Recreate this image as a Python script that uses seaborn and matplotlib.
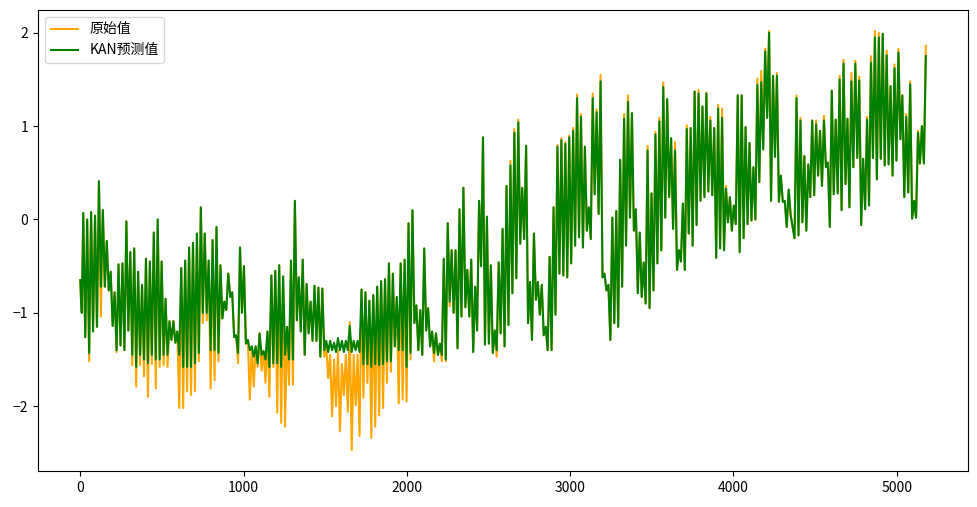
import matplotlib
matplotlib.use('Agg')
import matplotlib.pyplot as plt
import seaborn as sns
import numpy as np
import pandas as pd

plt.rcParams['font.family'] = ['Noto Sans CJK SC', 'DejaVu Sans']

steps_per_day = 24
head_idx = [0, 4, 9]
head_vals = [-0.65, -0.85, -1.0]

orig_high = [
    0.07, 0.0, 0.08, 0.04, 0.41, 0.1, -0.23, -0.56, -0.78, -0.48,
    -0.47, -0.02, -0.35, -0.31, -0.56, -0.7, -0.42, -0.45, -0.14, 0.0,
    -0.45, -0.85, -1.09, -1.09, -1.2, -0.52, -0.44, -0.3, -0.25, -0.15,
    0.13, -0.15, -0.44, -0.22, -0.08, -0.49, -0.88, -0.58, -0.78, -1.24,
    -0.3, -0.5, -1.29, -1.36, -1.36, -1.22, -1.41, -1.2, -0.6, -0.55,
    -0.49, -0.61, -1.15, -0.44, 0.2, -0.62, -0.43, -0.69, -0.88, -0.71,
    -0.73, -0.74, -1.35, -1.45, -1.5, -1.4, -1.55, -1.45, -1.1, -1.45,
    -1.45, -0.75, -0.78, -0.87, -0.81, -0.72, -0.66, -0.64, -0.47, -0.58,
    -0.83, -0.47, -0.43, -0.04, 0.1, -0.92, -0.97, -0.31, -0.95, -1.2,
    -1.22, -1.33, -0.42, -0.04, -0.33, -0.33, 0.11, 0.34, -0.54, -0.43,
    -0.72, 0.2, 0.88, 0.03, -0.49, -1.19, -0.46, -0.1, 0.36, 0.63,
    0.97, 1.07, 0.34, 0.79, -0.67, -0.15, -0.67, -0.7, -1.15, -0.4,
    0.13, 0.8, 0.87, 0.83, 0.9, 0.98, 1.34, 1.13, 0.78, 0.13,
    1.35, 1.18, 1.55, -0.58, -0.7, 0.02, 0.09, 0.64, 1.13, 1.33,
    1.14, 0.11, -0.14, -0.46, 0.79, 0.28, 0.94, 1.09, 1.47, 1.29,
    0.87, 0.83, -0.33, 0.17, 1.01, 0.98, 1.37, 1.39, 1.21, 1.36,
    1.1, 0.98, 1.23, 1.19, 0.36, 0.24, 0.15, 1.33, 1.33, 0.99,
    0.82, 0.56, 1.51, 1.59, 1.83, 2.02, 1.54, 1.57, 0.47, 0.2,
    0.32, -0.08, 1.33, 1.09, 0.68, 0.59, 1.06, 1.06, 0.95, 1.11,
    0.61, 1.38, 1.07, 1.54, 1.71, 1.08, 1.57, 1.7, 1.53, 0.65,
    1.1, 1.75, 2.02, 2.0, 1.99, 1.81, 1.43, 1.66, 1.83, 1.33,
    1.13, 1.48, 0.2, 0.95, 1.0, 1.86,
]
orig_low = [
    -1.26, -1.52, -1.2, -1.15, -1.04, -0.72, -0.76, -1.14, -1.42, -1.35,
    -1.4, -1.19, -1.56, -1.79, -1.56, -1.68, -1.9, -1.55, -1.81, -1.58,
    -1.56, -1.58, -1.29, -1.32, -2.02, -2.02, -1.84, -1.88, -1.84, -1.52,
    -1.11, -1.08, -1.81, -1.72, -1.52, -1.06, -0.97, -0.83, -1.26, -1.54,
    -1.0, -1.33, -1.93, -1.79, -1.58, -1.62, -1.75, -1.9, -1.58, -2.07,
    -2.18, -2.22, -1.77, -1.77, -1.08, -1.2, -1.45, -1.22, -1.3, -1.3,
    -1.47, -1.47, -1.7, -2.11, -2.0, -2.27, -1.88, -2.06, -2.47, -1.99,
    -2.32, -1.91, -1.75, -2.34, -2.22, -2.1, -2.02, -1.75, -1.63, -1.36,
    -1.97, -1.93, -1.95, -1.5, -1.11, -1.4, -1.45, -1.19, -1.36, -1.52,
    -1.45, -1.52, -1.52, -0.93, -1.0, -1.38, -1.04, -0.94, -1.04, -1.42,
    -1.19, -0.5, -1.34, -1.33, -1.43, -1.47, -1.22, -1.36, -1.13, -0.79,
    -0.63, -0.26, -0.21, -1.11, -1.29, -0.86, -1.02, -1.24, -1.4, -1.4,
    -1.02, -0.58, -0.6, -0.62, -0.47, -0.28, -0.19, -0.3, -0.12, -0.21,
    0.27, 0.06, -0.62, -0.76, -1.29, -1.11, -1.15, -0.72, -0.28, 0.02,
    -0.12, -0.79, -0.83, -0.9, -0.95, -0.76, -0.47, -0.33, 0.02, 0.24,
    -0.1, -0.54, -0.45, -0.54, -0.15, -0.28, -0.06, 0.2, 0.24, 0.3,
    0.26, -0.41, -0.31, -0.33, -0.03, -0.12, -0.05, -0.35, -0.2, -0.05,
    -0.01, 0.0, 0.4, 0.75, 1.09, 0.2, 0.67, 0.19, 0.19, -0.08,
    0.05, -0.2, -0.17, -0.03, -0.12, 0.24, 0.26, 0.47, 0.36, 0.56,
    -0.08, 0.27, 0.28, 0.1, 0.38, 0.13, 0.56, 0.66, -0.06, 0.11,
    0.15, 0.66, 0.43, 0.65, 0.58, 0.59, 0.47, 0.63, 0.86, 0.24,
    0.29, 0.01, 0.02, 0.6, 0.6,
]

pred_high = [
    0.07, 0.0, 0.08, 0.04, 0.41, 0.1, -0.23, -0.56, -0.78, -0.48,
    -0.47, -0.02, -0.35, -0.31, -0.56, -0.7, -0.42, -0.45, -0.14, 0.0,
    -0.45, -0.85, -1.09, -1.09, -1.2, -0.52, -0.44, -0.3, -0.25, -0.15,
    0.13, -0.15, -0.44, -0.22, -0.08, -0.49, -0.88, -0.58, -0.78, -1.24,
    -0.3, -0.5, -1.29, -1.36, -1.36, -1.22, -1.41, -1.2, -0.6, -0.55,
    -0.49, -0.61, -1.15, -0.44, 0.2, -0.62, -0.43, -0.69, -0.88, -0.71,
    -0.73, -0.74, -1.3, -1.3, -1.32, -1.27, -1.3, -1.3, -1.14, -1.3,
    -1.3, -0.75, -0.78, -0.87, -0.81, -0.72, -0.66, -0.64, -0.47, -0.58,
    -0.83, -0.47, -0.43, -0.04, 0.1, -0.92, -0.97, -0.31, -0.95, -1.2,
    -1.22, -1.33, -0.42, -0.04, -0.33, -0.33, 0.11, 0.34, -0.54, -0.43,
    -0.72, 0.2, 0.88, 0.03, -0.49, -1.19, -0.46, -0.1, 0.36, 0.58,
    0.93, 1.04, 0.34, 0.79, -0.67, -0.15, -0.67, -0.7, -1.15, -0.4,
    0.13, 0.78, 0.85, 0.81, 0.88, 0.95, 1.3, 1.1, 0.78, 0.13,
    1.3, 1.15, 1.48, -0.58, -0.7, 0.02, 0.09, 0.64, 1.08, 1.26,
    1.14, 0.11, -0.14, -0.46, 0.74, 0.28, 0.91, 1.05, 1.42, 1.29,
    0.87, 0.74, -0.33, 0.17, 0.97, 0.98, 1.37, 1.35, 1.21, 1.35,
    1.06, 0.98, 1.19, 1.09, 0.33, 0.24, 0.15, 1.33, 1.33, 0.99,
    0.82, 0.56, 1.44, 1.47, 1.8, 2.0, 1.54, 1.54, 0.47, 0.2,
    0.32, -0.08, 1.3, 1.06, 0.68, 0.59, 1.06, 1.02, 0.95, 1.06,
    0.61, 1.38, 1.07, 1.5, 1.67, 1.08, 1.48, 1.67, 1.49, 0.65,
    1.07, 1.68, 1.95, 1.95, 1.99, 1.76, 1.43, 1.62, 1.79, 1.33,
    1.1, 1.45, 0.2, 0.93, 1.0, 1.75,
]
pred_low = [
    -1.26, -1.43, -1.2, -1.15, -0.72, -0.72, -0.76, -1.14, -1.4, -1.35,
    -1.4, -1.19, -1.45, -1.58, -1.45, -1.5, -1.54, -1.45, -1.5, -1.5,
    -1.45, -1.45, -1.29, -1.32, -1.45, -1.58, -1.58, -1.58, -1.54, -1.43,
    -1.0, -1.0, -1.4, -1.4, -1.43, -1.06, -0.97, -0.83, -1.26, -1.43,
    -1.0, -1.33, -1.4, -1.47, -1.54, -1.45, -1.5, -1.58, -1.54, -1.54,
    -1.58, -1.45, -1.5, -1.5, -1.08, -1.2, -1.45, -1.22, -1.3, -1.3,
    -1.47, -1.4, -1.42, -1.4, -1.42, -1.4, -1.42, -1.4, -1.42, -1.4,
    -1.42, -1.55, -1.55, -1.58, -1.55, -1.56, -1.55, -1.52, -1.52, -1.36,
    -1.4, -1.4, -1.58, -1.43, -1.11, -1.4, -1.45, -1.19, -1.36, -1.43,
    -1.45, -1.45, -1.5, -0.88, -1.0, -1.38, -1.04, -0.94, -1.04, -1.42,
    -1.19, -0.5, -1.34, -1.33, -1.43, -1.4, -1.22, -1.36, -1.13, -0.79,
    -0.63, -0.26, -0.21, -1.11, -1.29, -0.86, -1.02, -1.24, -1.4, -1.4,
    -1.02, -0.58, -0.6, -0.62, -0.47, -0.28, -0.19, -0.3, -0.12, -0.21,
    0.27, 0.06, -0.62, -0.76, -1.29, -1.11, -1.15, -0.72, -0.28, 0.02,
    -0.12, -0.79, -0.83, -0.9, -0.95, -0.76, -0.47, -0.33, 0.02, 0.24,
    -0.1, -0.54, -0.45, -0.54, -0.15, -0.28, -0.06, 0.2, 0.24, 0.3,
    0.26, -0.41, -0.31, -0.33, -0.03, -0.12, -0.05, -0.35, -0.2, -0.05,
    -0.01, 0.0, 0.4, 0.75, 1.09, 0.2, 0.67, 0.19, 0.19, -0.08,
    0.05, -0.2, -0.17, -0.03, -0.12, 0.24, 0.26, 0.47, 0.36, 0.56,
    -0.08, 0.27, 0.28, 0.1, 0.38, 0.13, 0.56, 0.66, -0.06, 0.11,
    0.15, 0.66, 0.43, 0.65, 0.58, 0.59, 0.47, 0.63, 0.86, 0.24,
    0.29, 0.01, 0.02, 0.6, 0.6,
]


def build_series(highs, lows):
    idx = list(head_idx)
    vals = list(head_vals)
    for d, h in enumerate(highs):
        idx.append(d * steps_per_day + 18)
        vals.append(h)
        if d < len(lows):
            idx.append(d * steps_per_day + 30)
            vals.append(lows[d])
    return pd.DataFrame({'t': idx, 'v': vals})


orig_df = build_series(orig_high, orig_low)
pred_df = build_series(pred_high, pred_low)

fig = plt.figure(figsize=(9.78, 5.07), dpi=100)
ax = fig.add_axes([0.0389, 0.071, 0.951, 0.9093])

sns.lineplot(data=orig_df, x='t', y='v', ax=ax, color='orange', label='原始值',
             estimator=None, linewidth=1.5)
sns.lineplot(data=pred_df, x='t', y='v', ax=ax, color='green', label='KAN预测值',
             estimator=None, linewidth=1.5)

ax.set_xlabel('')
ax.set_ylabel('')
ax.legend(loc='upper left')

fig.savefig('out.png', dpi=100)
